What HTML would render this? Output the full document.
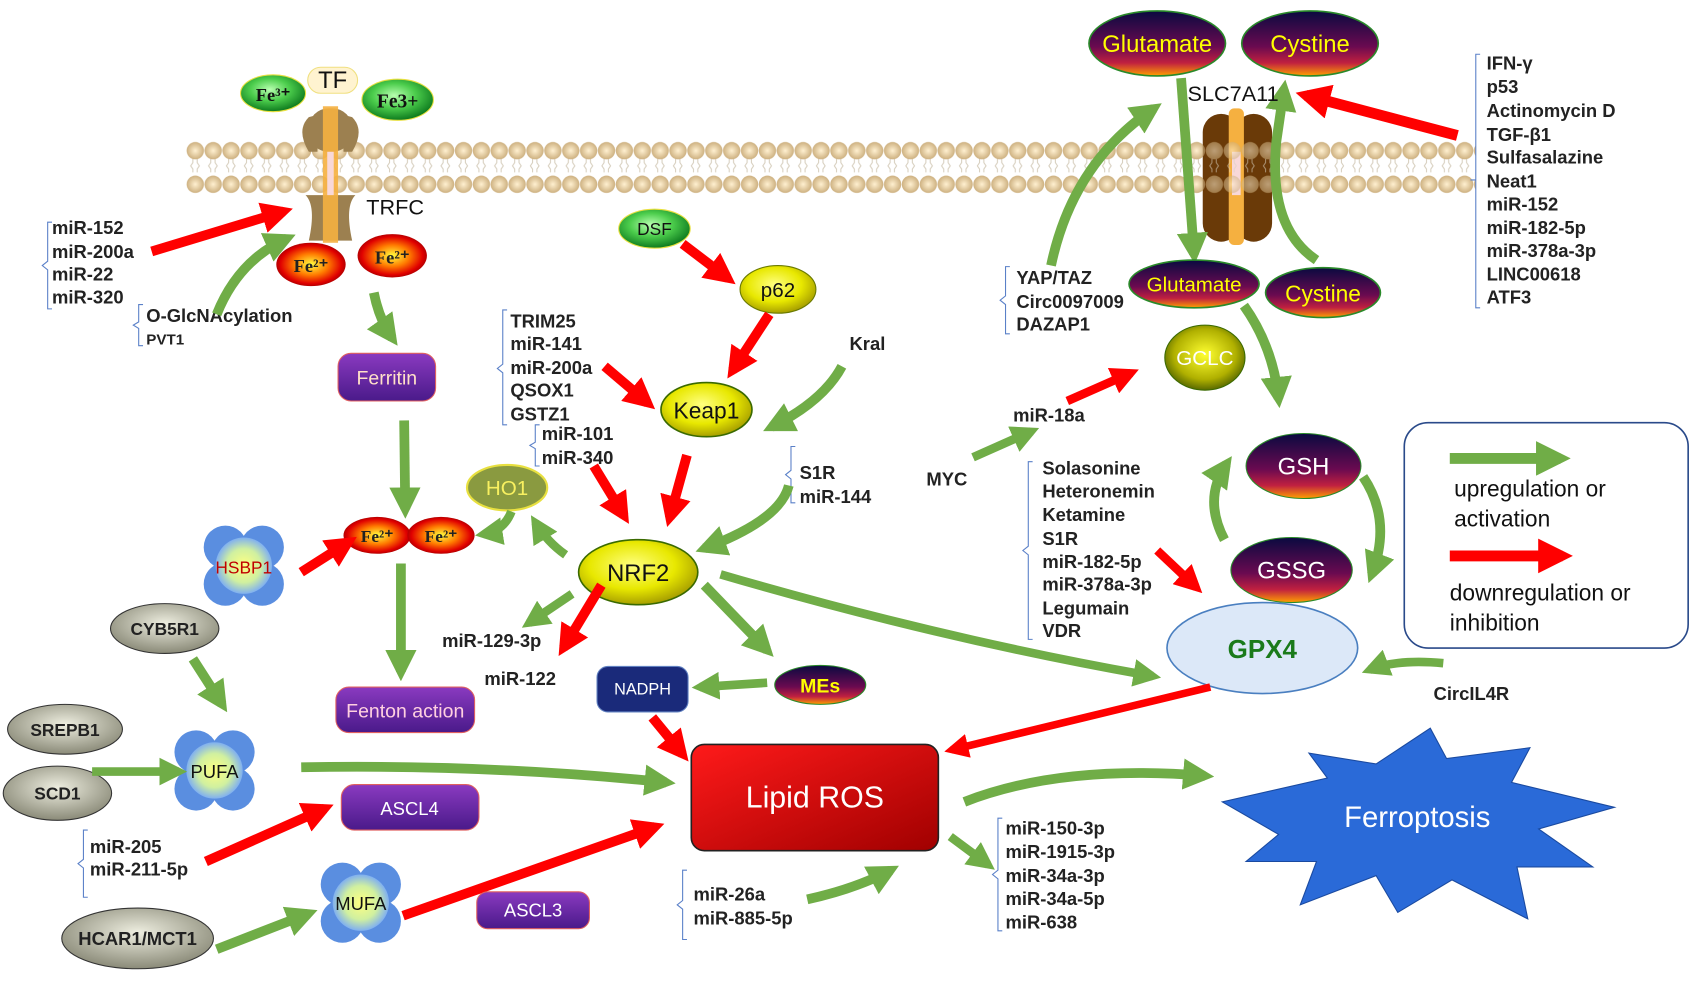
<!DOCTYPE html>
<html><head><meta charset="utf-8"><style>
html,body{margin:0;padding:0;background:#fff;}
svg{display:block}
text{font-family:"Liberation Sans",sans-serif;}
.b{font-weight:bold;font-size:17px;fill:#222}
</style></head><body>
<svg width="1699" height="984" viewBox="0 0 1568 908" xmlns="http://www.w3.org/2000/svg">
<defs>
<marker id="ag" viewBox="0 0 10 10" refX="7" refY="5" markerWidth="3.2" markerHeight="3.2" orient="auto" markerUnits="strokeWidth"><path d="M0,0 L10,5 L0,10 z" fill="#70ad47"/></marker>
<marker id="ar" viewBox="0 0 10 10" refX="7" refY="5" markerWidth="3.2" markerHeight="3.2" orient="auto" markerUnits="strokeWidth"><path d="M0,0 L10,5 L0,10 z" fill="#ff0000"/></marker>
<radialGradient id="gg" cx="45%" cy="40%" r="60%"><stop offset="0" stop-color="#b8ffb0"/><stop offset="0.5" stop-color="#4ccd4c"/><stop offset="1" stop-color="#0d7a1e"/></radialGradient>
<radialGradient id="gr" cx="50%" cy="50%" r="55%"><stop offset="0" stop-color="#ffff40"/><stop offset="0.45" stop-color="#ff7a00"/><stop offset="0.8" stop-color="#e00000"/><stop offset="1" stop-color="#900000"/></radialGradient>
<radialGradient id="gy" cx="45%" cy="40%" r="60%"><stop offset="0" stop-color="#ffff80"/><stop offset="0.6" stop-color="#e8e800"/><stop offset="1" stop-color="#a8a000"/></radialGradient>
<radialGradient id="gc" cx="50%" cy="45%" r="55%"><stop offset="0" stop-color="#ffff30"/><stop offset="0.7" stop-color="#b0b000"/><stop offset="1" stop-color="#5a6a00"/></radialGradient>
<linearGradient id="gd" x1="0" y1="0" x2="0" y2="1"><stop offset="0" stop-color="#0a0a40"/><stop offset="0.55" stop-color="#6a0a50"/><stop offset="0.8" stop-color="#c02040"/><stop offset="1" stop-color="#ffa000"/></linearGradient>
<linearGradient id="gp" x1="0" y1="0" x2="0" y2="1"><stop offset="0" stop-color="#8a3ac0"/><stop offset="1" stop-color="#4a1a8a"/></linearGradient>
<linearGradient id="glr" x1="0" y1="0" x2="1" y2="1"><stop offset="0" stop-color="#ff1a1a"/><stop offset="1" stop-color="#a00000"/></linearGradient>
<radialGradient id="gf" cx="50%" cy="50%" r="50%"><stop offset="0" stop-color="#ffff80"/><stop offset="0.6" stop-color="#d0f0a0"/><stop offset="1" stop-color="#80b0f0"/></radialGradient>
<radialGradient id="gb" cx="50%" cy="50%" r="55%"><stop offset="0" stop-color="#fff0d0"/><stop offset="1" stop-color="#c8aa78"/></radialGradient>
<radialGradient id="ggr" cx="50%" cy="40%" r="60%"><stop offset="0" stop-color="#eeeee0"/><stop offset="1" stop-color="#8a8a78"/></radialGradient>
<pattern id="mem" x="172" y="128" width="16.5" height="54" patternUnits="userSpaceOnUse">
<path d="M6,18 v4 l-2,3 l2,3 v3 M10,18 v4 l2,3 l-2,3 v3" stroke="#d8d0c0" stroke-width="1" fill="none"/>
<circle cx="8.25" cy="11" r="8" fill="url(#gb)"/>
<circle cx="8.25" cy="42" r="8" fill="url(#gb)"/>
</pattern>
</defs>

<!-- membrane -->
<rect x="172" y="128" width="1190" height="54" fill="url(#mem)"/>

<!-- TRFC channel -->
<path d="M285,108 q-12,12 0,32 l8,0 l0,-34 z M325,108 q12,12 0,32 l-8,0 l0,-34 z" fill="#9c8050"/>
<rect x="285" y="100" width="40" height="40" rx="18" fill="#9c8050"/>
<path d="M282,180 q10,10 3,42 h40 q-7,-32 3,-42 z" fill="#9c8050"/>
<rect x="298" y="98" width="14" height="126" fill="#f5b040" opacity="0.9"/>
<rect x="302" y="140" width="6" height="40" fill="#f8d8d8"/>
<rect x="284" y="62" width="46" height="24" rx="12" fill="#fff3d0" stroke="#f0e080"/>
<text x="307" y="81" font-size="22" text-anchor="middle" fill="#111">TF</text>
<ellipse cx="252" cy="86" rx="30" ry="17" fill="url(#gg)" stroke="#e8e040"/>
<text x="252" y="93" font-family="Liberation Serif" font-weight="bold" font-size="17" text-anchor="middle" fill="#111" style="font-family:'Liberation Serif',serif">Fe³⁺</text>
<ellipse cx="367" cy="92" rx="33" ry="19" fill="url(#gg)" stroke="#e8e040"/>
<text x="367" y="99" font-weight="bold" font-size="18" text-anchor="middle" fill="#111" style="font-family:'Liberation Serif',serif">Fe3+</text>
<text x="338" y="198" font-size="20" fill="#111">TRFC</text>
<ellipse cx="287" cy="244" rx="32" ry="20" fill="url(#gr)"/>
<text x="287" y="251" font-weight="bold" font-size="17" text-anchor="middle" fill="#222" style="font-family:'Liberation Serif',serif">Fe²⁺</text>
<ellipse cx="362" cy="236" rx="32" ry="20" fill="url(#gr)"/>
<text x="362" y="243" font-weight="bold" font-size="17" text-anchor="middle" fill="#222" style="font-family:'Liberation Serif',serif">Fe²⁺</text>

<!-- left lists -->
<path d="M48,205 h-4 v36 l-5,4 l5,4 v36 h4" stroke="#5a80c8" fill="none"/>
<text class="b" x="48" y="216">miR-152</text>
<text class="b" x="48" y="238">miR-200a</text>
<text class="b" x="48" y="259">miR-22</text>
<text class="b" x="48" y="280">miR-320</text>
<path d="M132,281 h-4 v16 l-5,3 l5,3 v16 h4" stroke="#5a80c8" fill="none"/>
<text class="b" x="135" y="297">O-GlcNAcylation</text>
<text class="b" x="135" y="318" style="font-size:14px">PVT1</text>
<path d="M140,232 L262,195" stroke="#ff0000" stroke-width="9" fill="none" marker-end="url(#ar)"/>
<path d="M200,290 Q220,240 265,220" stroke="#70ad47" stroke-width="9" fill="none" marker-end="url(#ag)"/>
<path d="M345,270 Q350,295 362,312" stroke="#70ad47" stroke-width="9" fill="none" marker-end="url(#ag)"/>

<rect x="312" y="326" width="90" height="44" rx="12" fill="url(#gp)" stroke="#e06060"/>
<text x="357" y="355" font-size="18" text-anchor="middle" fill="#ffe0c8">Ferritin</text>
<path d="M373,388 L374,470" stroke="#70ad47" stroke-width="9" fill="none" marker-end="url(#ag)"/>

<ellipse cx="348" cy="494" rx="31" ry="17" fill="url(#gr)"/>
<text x="348" y="500" font-weight="bold" font-size="16" text-anchor="middle" fill="#222" style="font-family:'Liberation Serif',serif">Fe²⁺</text>
<ellipse cx="407" cy="494" rx="31" ry="17" fill="url(#gr)"/>
<text x="407" y="500" font-weight="bold" font-size="16" text-anchor="middle" fill="#222" style="font-family:'Liberation Serif',serif">Fe²⁺</text>

<ellipse cx="468" cy="450" rx="37" ry="21" fill="#8a9a40" stroke="#e8e040" stroke-width="2"/>
<text x="468" y="457" font-size="19" text-anchor="middle" fill="#f8f060">HO1</text>
<path d="M472,472 Q465,490 446,493" stroke="#70ad47" stroke-width="8" fill="none" marker-end="url(#ag)"/>
<path d="M522,512 Q505,500 494,482" stroke="#70ad47" stroke-width="8" fill="none" marker-end="url(#ag)"/>

<!-- HSBP1 -->
<g transform="translate(225,522)"><circle cx="-17" cy="-17" r="20" fill="#5a8ee0"/><circle cx="17" cy="-17" r="20" fill="#5a8ee0"/><circle cx="-17" cy="17" r="20" fill="#5a8ee0"/><circle cx="17" cy="17" r="20" fill="#5a8ee0"/><circle r="26" fill="url(#gf)"/></g>
<text x="225" y="529" font-size="16" text-anchor="middle" fill="#c00000">HSBP1</text>
<path d="M278,528 L322,500" stroke="#ff0000" stroke-width="9" fill="none" marker-end="url(#ar)"/>
<path d="M370,520 L370,620" stroke="#70ad47" stroke-width="9" fill="none" marker-end="url(#ag)"/>
<rect x="310" y="634" width="128" height="42" rx="12" fill="url(#gp)" stroke="#e06060"/>
<text x="374" y="662" font-size="18" text-anchor="middle" fill="#ffd0e0">Fenton action</text>

<ellipse cx="152" cy="580" rx="50" ry="23" fill="url(#ggr)" stroke="#333"/>
<text x="152" y="586" font-weight="bold" font-size="16" text-anchor="middle" fill="#222">CYB5R1</text>
<path d="M178,608 L205,650" stroke="#70ad47" stroke-width="9" fill="none" marker-end="url(#ag)"/>
<ellipse cx="60" cy="673" rx="53" ry="23" fill="url(#ggr)" stroke="#333"/>
<text x="60" y="679" font-weight="bold" font-size="16" text-anchor="middle" fill="#222">SREPB1</text>
<ellipse cx="53" cy="732" rx="50" ry="25" fill="url(#ggr)" stroke="#333"/>
<text x="53" y="738" font-weight="bold" font-size="16" text-anchor="middle" fill="#222">SCD1</text>
<g transform="translate(198,711)"><circle cx="-17" cy="-17" r="20" fill="#5a8ee0"/><circle cx="17" cy="-17" r="20" fill="#5a8ee0"/><circle cx="-17" cy="17" r="20" fill="#5a8ee0"/><circle cx="17" cy="17" r="20" fill="#5a8ee0"/><circle r="26" fill="url(#gf)"/></g>
<text x="198" y="718" font-size="17" text-anchor="middle" fill="#111">PUFA</text>
<path d="M85,712 L165,712" stroke="#70ad47" stroke-width="8" fill="none" marker-end="url(#ag)"/>
<path d="M278,708 Q450,705 615,722" stroke="#70ad47" stroke-width="9" fill="none" marker-end="url(#ag)"/>
<rect x="315" y="724" width="127" height="42" rx="12" fill="url(#gp)" stroke="#e06060"/>
<text x="378" y="752" font-size="17" text-anchor="middle" fill="#fff">ASCL4</text>
<path d="M81,766 h-4 v27 l-5,4 l5,4 v27 h4" stroke="#5a80c8" fill="none"/>
<text class="b" x="83" y="787">miR-205</text>
<text class="b" x="83" y="808">miR-211-5p</text>
<path d="M190,795 L300,746" stroke="#ff0000" stroke-width="9" fill="none" marker-end="url(#ar)"/>
<ellipse cx="127" cy="866" rx="70" ry="28" fill="url(#ggr)" stroke="#333"/>
<text x="127" y="872" font-weight="bold" font-size="17" text-anchor="middle" fill="#222">HCAR1/MCT1</text>
<g transform="translate(333,833)"><circle cx="-17" cy="-17" r="20" fill="#5a8ee0"/><circle cx="17" cy="-17" r="20" fill="#5a8ee0"/><circle cx="-17" cy="17" r="20" fill="#5a8ee0"/><circle cx="17" cy="17" r="20" fill="#5a8ee0"/><circle r="26" fill="url(#gf)"/></g>
<text x="333" y="840" font-size="17" text-anchor="middle" fill="#111">MUFA</text>
<path d="M200,876 L285,843" stroke="#70ad47" stroke-width="9" fill="none" marker-end="url(#ag)"/>
<path d="M372,845 L605,763" stroke="#ff0000" stroke-width="9" fill="none" marker-end="url(#ar)"/>
<rect x="440" y="823" width="104" height="34" rx="10" fill="url(#gp)" stroke="#e06060"/>
<text x="492" y="846" font-size="17" text-anchor="middle" fill="#fff">ASCL3</text>

<!-- middle -->
<ellipse cx="604" cy="211" rx="33" ry="18" fill="url(#gg)" stroke="#e8e040"/>
<text x="604" y="217" font-size="16" text-anchor="middle" fill="#111">DSF</text>
<path d="M630,225 L672,257" stroke="#ff0000" stroke-width="9" fill="none" marker-end="url(#ar)"/>
<ellipse cx="718" cy="267" rx="35" ry="22" fill="url(#gy)" stroke="#6a7a00"/>
<text x="718" y="274" font-size="19" text-anchor="middle" fill="#111">p62</text>
<path d="M710,290 L676,342" stroke="#ff0000" stroke-width="9" fill="none" marker-end="url(#ar)"/>
<ellipse cx="652" cy="378" rx="42" ry="25" fill="url(#gy)" stroke="#3a6a00" stroke-width="1.5"/>
<text x="652" y="386" font-size="21" text-anchor="middle" fill="#111">Keap1</text>
<text class="b" x="784" y="323">Kral</text>
<path d="M777,338 Q760,370 712,394" stroke="#70ad47" stroke-width="9" fill="none" marker-end="url(#ag)"/>
<path d="M468,286 h-4 v50 l-5,4 l-0,0 l5,4 v48 h4" stroke="#5a80c8" fill="none"/>
<text class="b" x="471" y="302">TRIM25</text>
<text class="b" x="471" y="323">miR-141</text>
<text class="b" x="471" y="345">miR-200a</text>
<text class="b" x="471" y="366">QSOX1</text>
<text class="b" x="471" y="388">GSTZ1</text>
<path d="M498,392 h-4 v16 l-5,3 l5,3 v16 h4" stroke="#5a80c8" fill="none"/>
<text class="b" x="500" y="406">miR-101</text>
<text class="b" x="500" y="428">miR-340</text>
<path d="M558,338 L598,372" stroke="#ff0000" stroke-width="9" fill="none" marker-end="url(#ar)"/>
<path d="M548,430 L576,476" stroke="#ff0000" stroke-width="9" fill="none" marker-end="url(#ar)"/>
<path d="M634,420 L618,478" stroke="#ff0000" stroke-width="9" fill="none" marker-end="url(#ar)"/>
<path d="M734,412 h-4 v22 l-5,4 l5,4 v22 h4" stroke="#5a80c8" fill="none"/>
<text class="b" x="738" y="442">S1R</text>
<text class="b" x="738" y="464">miR-144</text>
<path d="M728,448 Q720,480 650,506" stroke="#70ad47" stroke-width="9" fill="none" marker-end="url(#ag)"/>
<ellipse cx="589" cy="528" rx="55" ry="30" fill="url(#gy)" stroke="#3a6a00" stroke-width="1.5"/>
<text x="589" y="536" font-size="22" text-anchor="middle" fill="#111">NRF2</text>
<path d="M528,548 L488,575" stroke="#70ad47" stroke-width="8" fill="none" marker-end="url(#ag)"/>
<text class="b" x="408" y="597">miR-129-3p</text>
<path d="M555,540 L520,598" stroke="#ff0000" stroke-width="9" fill="none" marker-end="url(#ar)"/>
<text class="b" x="447" y="632">miR-122</text>
<path d="M650,540 L708,600" stroke="#70ad47" stroke-width="9" fill="none" marker-end="url(#ag)"/>
<ellipse cx="757" cy="632" rx="42" ry="18" fill="url(#gd)" stroke="#2a8a2a"/>
<text x="757" y="639" font-size="18" font-weight="bold" text-anchor="middle" fill="#ffff00">MEs</text>
<path d="M708,630 L646,634" stroke="#70ad47" stroke-width="8" fill="none" marker-end="url(#ag)"/>
<rect x="551" y="615" width="84" height="42" rx="10" fill="#1a2a7a" stroke="#6080c0"/>
<text x="593" y="641" font-size="15" text-anchor="middle" fill="#fff">NADPH</text>
<path d="M602,662 L630,696" stroke="#ff0000" stroke-width="9" fill="none" marker-end="url(#ar)"/>
<path d="M665,530 Q870,590 1064,624" stroke="#70ad47" stroke-width="8" fill="none" marker-end="url(#ag)"/>

<rect x="638" y="687" width="228" height="98" rx="12" fill="url(#glr)" stroke="#222" stroke-width="1.5"/>
<text x="752" y="745" font-size="28" text-anchor="middle" fill="#fff">Lipid ROS</text>
<path d="M890,740 Q980,705 1112,716" stroke="#70ad47" stroke-width="9" fill="none" marker-end="url(#ag)"/>
<path d="M1128,740 L1225,718 L1208,695 L1270,705 L1320,672 L1335,700 L1412,690 L1395,722 L1490,745 L1420,765 L1470,800 L1400,800 L1410,848 L1340,812 L1290,842 L1270,808 L1200,835 L1215,795 L1150,795 L1180,770 Z" fill="#2a6ad8" stroke="#1a4aa0"/>
<text x="1308" y="763" font-size="27" text-anchor="middle" fill="#fff">Ferroptosis</text>
<path d="M877,772 L912,798" stroke="#70ad47" stroke-width="8" fill="none" marker-end="url(#ag)"/>
<path d="M925,755 h-4 v48 l-5,4 l5,4 v48 h4" stroke="#5a80c8" fill="none"/>
<text class="b" x="928" y="770">miR-150-3p</text>
<text class="b" x="928" y="792">miR-1915-3p</text>
<text class="b" x="928" y="814">miR-34a-3p</text>
<text class="b" x="928" y="835">miR-34a-5p</text>
<text class="b" x="928" y="857">miR-638</text>
<path d="M634,803 h-4 v28 l-5,4 l5,4 v28 h4" stroke="#5a80c8" fill="none"/>
<text class="b" x="640" y="831">miR-26a</text>
<text class="b" x="640" y="853">miR-885-5p</text>
<path d="M745,830 Q790,820 822,803" stroke="#70ad47" stroke-width="9" fill="none" marker-end="url(#ag)"/>

<!-- right -->
<ellipse cx="1165" cy="598" rx="88" ry="42" fill="#dce8f8" stroke="#4a7fc0" stroke-width="1.5"/>
<text x="1165" y="607" font-size="24" font-weight="bold" text-anchor="middle" fill="#1a7a1a">GPX4</text>
<path d="M1117,634 L878,692" stroke="#ff0000" stroke-width="7" fill="none" marker-end="url(#ar)"/>
<text class="b" x="1323" y="646">CircIL4R</text>
<path d="M1332,612 Q1290,608 1264,618" stroke="#70ad47" stroke-width="8" fill="none" marker-end="url(#ag)"/>
<path d="M953,426 h-4 v78 l-5,4 l5,4 v78 h4" stroke="#5a80c8" fill="none"/>
<text class="b" x="962" y="438">Solasonine</text>
<text class="b" x="962" y="459">Heteronemin</text>
<text class="b" x="962" y="481">Ketamine</text>
<text class="b" x="962" y="503">S1R</text>
<text class="b" x="962" y="524">miR-182-5p</text>
<text class="b" x="962" y="545">miR-378a-3p</text>
<text class="b" x="962" y="567">Legumain</text>
<text class="b" x="962" y="588">VDR</text>
<path d="M1068,508 L1104,542" stroke="#ff0000" stroke-width="8" fill="none" marker-end="url(#ar)"/>
<path d="M1130,498 Q1110,460 1132,428" stroke="#70ad47" stroke-width="9" fill="none" marker-end="url(#ag)"/>
<path d="M1258,440 Q1285,480 1266,530" stroke="#70ad47" stroke-width="9" fill="none" marker-end="url(#ag)"/>
<ellipse cx="1203" cy="430" rx="53" ry="30" fill="url(#gd)" stroke="#2a8a2a"/>
<text x="1203" y="438" font-size="22" text-anchor="middle" fill="#fff">GSH</text>
<ellipse cx="1192" cy="526" rx="56" ry="30" fill="url(#gd)" stroke="#2a8a2a"/>
<text x="1192" y="534" font-size="22" text-anchor="middle" fill="#fff">GSSG</text>
<ellipse cx="1112" cy="330" rx="37" ry="30" fill="url(#gc)" stroke="#3a6a00"/>
<text x="1112" y="337" font-size="19" text-anchor="middle" fill="#fff">GCLC</text>
<text class="b" x="855" y="448">MYC</text>
<text class="b" x="935" y="389">miR-18a</text>
<path d="M898,422 L952,398" stroke="#70ad47" stroke-width="8" fill="none" marker-end="url(#ag)"/>
<path d="M985,370 L1044,344" stroke="#ff0000" stroke-width="8" fill="none" marker-end="url(#ar)"/>
<path d="M1148,282 Q1175,320 1180,368" stroke="#70ad47" stroke-width="9" fill="none" marker-end="url(#ag)"/>

<!-- SLC7A11 -->
<rect x="1110" y="105" width="34" height="118" rx="17" fill="#6a3a08"/>
<rect x="1140" y="105" width="34" height="118" rx="17" fill="#6a3a08"/>
<rect x="1134" y="100" width="14" height="126" rx="5" fill="#f5b040"/>
<rect x="1137" y="140" width="8" height="40" fill="#f8d8d8"/>
<rect x="1104" y="128" width="78" height="54" fill="url(#mem)" opacity="0.55"/>
<path d="M970,245 Q990,150 1065,100" stroke="#70ad47" stroke-width="9" fill="none" marker-end="url(#ag)"/>
<path d="M1090,72 L1102,235" stroke="#70ad47" stroke-width="9" fill="none" marker-end="url(#ag)"/>
<path d="M1215,240 Q1170,210 1178,130 L1185,82" stroke="#70ad47" stroke-width="9" fill="none" marker-end="url(#ag)"/>
<ellipse cx="1068" cy="40" rx="63" ry="30" fill="url(#gd)" stroke="#2a8a2a" stroke-width="1.5"/>
<text x="1068" y="48" font-size="22" text-anchor="middle" fill="#ffff00">Glutamate</text>
<ellipse cx="1209" cy="40" rx="63" ry="30" fill="url(#gd)" stroke="#2a8a2a" stroke-width="1.5"/>
<text x="1209" y="48" font-size="22" text-anchor="middle" fill="#ffff00">Cystine</text>
<text x="1138" y="93" font-size="20" text-anchor="middle" fill="#111">SLC7A11</text>
<ellipse cx="1102" cy="262" rx="60" ry="22" fill="url(#gd)" stroke="#2a8a2a" stroke-width="1.5"/>
<text x="1102" y="269" font-size="19" text-anchor="middle" fill="#ffff00">Glutamate</text>
<ellipse cx="1221" cy="270" rx="53" ry="23" fill="url(#gd)" stroke="#2a8a2a" stroke-width="1.5"/>
<text x="1221" y="278" font-size="21" text-anchor="middle" fill="#ffff00">Cystine</text>
<path d="M932,246 h-4 v27 l-5,4 l5,4 v27 h4" stroke="#5a80c8" fill="none"/>
<text class="b" x="938" y="262">YAP/TAZ</text>
<text class="b" x="938" y="284">Circ0097009</text>
<text class="b" x="938" y="305">DAZAP1</text>
<path d="M1366,50 h-4 v116 l-5,0 l5,0 v118 h4" stroke="#5a80c8" fill="none"/>
<g class="b"><text class="b" x="1372" y="64">IFN-γ</text>
<text class="b" x="1372" y="86">p53</text>
<text class="b" x="1372" y="108">Actinomycin D</text>
<text class="b" x="1372" y="130">TGF-β1</text>
<text class="b" x="1372" y="151">Sulfasalazine</text>
<text class="b" x="1372" y="173">Neat1</text>
<text class="b" x="1372" y="194">miR-152</text>
<text class="b" x="1372" y="216">miR-182-5p</text>
<text class="b" x="1372" y="237">miR-378a-3p</text>
<text class="b" x="1372" y="259">LINC00618</text>
<text class="b" x="1372" y="280">ATF3</text></g>
<path d="M1345,125 L1205,88" stroke="#ff0000" stroke-width="10" fill="none" marker-end="url(#ar)"/>

<!-- legend -->
<rect x="1296" y="390" width="262" height="208" rx="22" fill="#fff" stroke="#2a4a8a" stroke-width="1.5"/>
<path d="M1338,423 L1440,423" stroke="#70ad47" stroke-width="10" fill="none" marker-end="url(#ag)"/>
<text x="1342" y="458" font-size="21" fill="#111">upregulation or</text>
<text x="1342" y="486" font-size="21" fill="#111">activation</text>
<path d="M1338,513 L1442,513" stroke="#ff0000" stroke-width="10" fill="none" marker-end="url(#ar)"/>
<text x="1338" y="554" font-size="21" fill="#111">downregulation or</text>
<text x="1338" y="582" font-size="21" fill="#111">inhibition</text>
</svg>
</body></html>
